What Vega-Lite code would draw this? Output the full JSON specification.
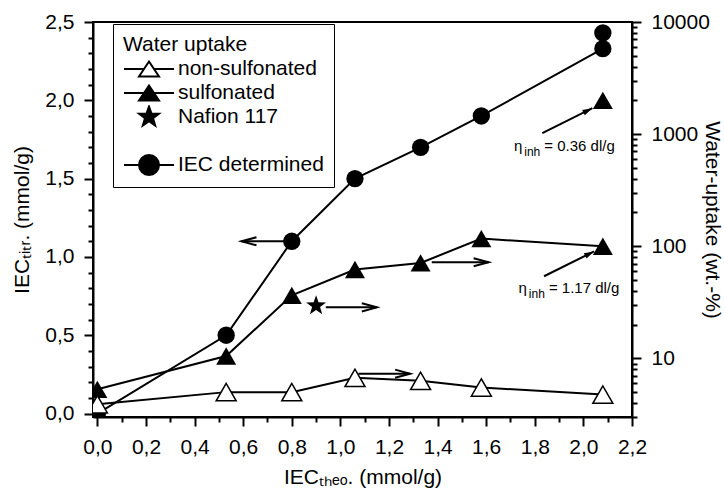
{
  "$schema": "https://vega.github.io/schema/vega-lite/v6.json",
  "width": 539,
  "height": 395,
  "autosize": {"type": "none"},
  "padding": {"left": 93, "top": 22, "right": 92, "bottom": 73},
  "background": "white",
  "config": {
    "font": "Liberation Sans",
    "view": {"stroke": "black", "strokeWidth": 2},
    "axis": {
      "domainColor": "black", "domainWidth": 2,
      "tickColor": "black", "tickWidth": 2, "tickSize": 8,
      "labelColor": "black", "labelFontSize": 21, "labelFont": "Liberation Sans",
      "titleColor": "black", "titleFontSize": 21, "titleFont": "Liberation Sans", "titleFontWeight": "normal",
      "grid": false, "labelFlush": false, "labelOverlap": false, "labelPadding": 10
    },
    "legend": {
      "orient": "none", "legendX": 20, "legendY": 2, "padding": 10,
      "strokeColor": "black",
      "titleFontSize": 21, "titleFontWeight": "normal", "titleColor": "black", "titlePadding": 2,
      "labelFontSize": 21, "labelColor": "black", "labelOffset": 3, "labelLimit": 300,
      "symbolSize": 2500, "symbolStrokeWidth": 2, "symbolStrokeColor": "black",
      "clipHeight": 24, "rowPadding": 0
    }
  },
  "datasets": {
    "iec": [
      {"x": 0, "y": 0, "connected": true},
      {"x": 0.53, "y": 0.5, "connected": true},
      {"x": 0.8, "y": 1.1, "connected": true},
      {"x": 1.06, "y": 1.5, "connected": true},
      {"x": 1.33, "y": 1.7, "connected": true},
      {"x": 1.58, "y": 1.9, "connected": true},
      {"x": 2.08, "y": 2.33, "connected": true},
      {"x": 2.08, "y": 2.43, "connected": false}
    ],
    "water": [
      {"series": "non-sulfonated", "x": 0, "y": 3.9, "connected": true},
      {"series": "non-sulfonated", "x": 0.53, "y": 5.0, "connected": true},
      {"series": "non-sulfonated", "x": 0.8, "y": 5.0, "connected": true},
      {"series": "non-sulfonated", "x": 1.06, "y": 6.7, "connected": true},
      {"series": "non-sulfonated", "x": 1.33, "y": 6.3, "connected": true},
      {"series": "non-sulfonated", "x": 1.58, "y": 5.5, "connected": true},
      {"series": "non-sulfonated", "x": 2.08, "y": 4.75, "connected": true},
      {"series": "sulfonated", "x": 0, "y": 5.3, "connected": true},
      {"series": "sulfonated", "x": 0.53, "y": 10.5, "connected": true},
      {"series": "sulfonated", "x": 0.8, "y": 36.5, "connected": true},
      {"series": "sulfonated", "x": 1.06, "y": 62, "connected": true},
      {"series": "sulfonated", "x": 1.33, "y": 71, "connected": true},
      {"series": "sulfonated", "x": 1.58, "y": 117, "connected": true},
      {"series": "sulfonated", "x": 2.08, "y": 100, "connected": true},
      {"series": "sulfonated", "x": 2.08, "y": 2000, "connected": false},
      {"series": "Nafion 117", "x": 0.9, "y": 29.5, "connected": false}
    ],
    "arrows": [
      {"side": "left", "kind": "h", "x": 0.78, "y": 1.1, "x2": 0.593, "y2": 1.1},
      {"side": "right", "kind": "h", "x": 0.94, "y": 28.5, "x2": 1.15, "y2": 28.5},
      {"side": "right", "kind": "h", "x": 1.376, "y": 72, "x2": 1.61, "y2": 72},
      {"side": "right", "kind": "h", "x": 1.074, "y": 7.3, "x2": 1.287, "y2": 7.3},
      {"side": "right", "kind": "eta", "x": 1.831, "y": 1021, "x2": 2.037, "y2": 1705},
      {"side": "right", "kind": "eta", "x": 1.838, "y": 54, "x2": 2.044, "y2": 90}
    ],
    "notes": [
      {"x": 1.839, "y": 776, "label": "= 0.36 dl/g"},
      {"x": 1.858, "y": 42.5, "label": "= 1.17 dl/g"}
    ],
    "legendRows": [
      {"series": "non-sulfonated", "x": -1, "y": 100},
      {"series": "sulfonated", "x": -1, "y": 100},
      {"series": "Nafion 117", "x": -1, "y": 100},
      {"series": " ", "x": -1, "y": 100},
      {"series": "IEC determined", "x": -1, "y": 100}
    ]
  },
  "encoding": {
    "x": {
      "field": "x", "type": "quantitative",
      "scale": {"domain": [-0.018, 2.2], "nice": false, "zero": false},
      "axis": {
        "title": "IECₜₕₑₒ. (mmol/g)",
        "values": [0, 0.1, 0.2, 0.3, 0.4, 0.5, 0.6, 0.7, 0.8, 0.9, 1, 1.1, 1.2, 1.3, 1.4, 1.5, 1.6, 1.7, 1.8, 1.9, 2, 2.1, 2.2],
        "labelExpr": "round(datum.value*10) % 2 == 0 ? replace(format(datum.value, '.1f'), '.', ',') : ''",
        "tickSize": {"condition": {"test": "round(datum.value*10) % 2 == 0", "value": 9}, "value": 5},
        "titlePadding": 9
      }
    }
  },
  "layer": [
    {
      "encoding": {
        "y": {
          "field": "y", "type": "quantitative",
          "scale": {"domain": [-0.022, 2.5], "nice": false, "zero": false},
          "axis": {
            "title": "IECₜᵢₜᵣ. (mmol/g)", "orient": "left",
            "values": [0, 0.1, 0.2, 0.3, 0.4, 0.5, 0.6, 0.7, 0.8, 0.9, 1, 1.1, 1.2, 1.3, 1.4, 1.5, 1.6, 1.7, 1.8, 1.9, 2, 2.1, 2.2, 2.3, 2.4, 2.5],
            "labelExpr": "round(datum.value*10) % 5 == 0 ? replace(format(datum.value, '.1f'), '.', ',') : ''",
            "tickSize": {"condition": {"test": "round(datum.value*10) % 5 == 0", "value": 9}, "value": 5},
            "titlePadding": 12
          }
        }
      },
      "layer": [
        {
          "data": {"name": "arrows"},
          "transform": [{"filter": "datum.side == 'left'"}],
          "mark": {"type": "rule", "stroke": "black", "strokeWidth": 2},
          "encoding": {"x2": {"field": "x2"}, "y2": {"field": "y2"}}
        },
        {
          "data": {"name": "arrows"},
          "transform": [{"filter": "datum.side == 'left'"}],
          "mark": {"type": "point", "shape": "M1,-0.27L0,0L1,0.27", "filled": false, "stroke": "black", "strokeWidth": 2, "size": 900, "opacity": 1},
          "encoding": {"x": {"field": "x2", "type": "quantitative"}, "y": {"field": "y2", "type": "quantitative"}}
        },
        {
          "data": {"name": "iec"},
          "transform": [{"filter": "datum.connected"}],
          "mark": {"type": "line", "color": "black", "strokeWidth": 2, "clip": true},
          "encoding": {}
        },
        {
          "data": {"name": "iec"},
          "mark": {"type": "point", "shape": "circle", "filled": true, "fill": "black", "size": 300, "opacity": 1, "clip": true},
          "encoding": {}
        }
      ]
    },
    {
      "encoding": {
        "y": {
          "field": "y", "type": "quantitative",
          "scale": {"type": "log", "domain": [3, 10000], "nice": false},
          "axis": {
            "title": "Water-uptake (wt.-%)", "orient": "right",
            "values": [3, 4, 5, 6, 7, 8, 9, 10, 20, 30, 40, 50, 60, 70, 80, 90, 100, 200, 300, 400, 500, 600, 700, 800, 900, 1000, 2000, 3000, 4000, 5000, 6000, 7000, 8000, 9000, 10000],
            "labelExpr": "indexof([10, 100, 1000, 10000], datum.value) >= 0 ? format(datum.value, 'd') : ''",
            "tickSize": {"condition": {"test": "indexof([10, 100, 1000, 10000], datum.value) >= 0", "value": 9}, "value": 5},
            "titlePadding": -8
          }
        }
      },
      "layer": [
        {
          "data": {"name": "arrows"},
          "transform": [{"filter": "datum.side == 'right'"}],
          "mark": {"type": "rule", "stroke": "black", "strokeWidth": 2},
          "encoding": {"x2": {"field": "x2"}, "y2": {"field": "y2"}}
        },
        {
          "data": {"name": "arrows"},
          "transform": [{"filter": "datum.side == 'right' && datum.kind == 'h'"}],
          "mark": {"type": "point", "shape": "M-1,-0.27L0,0L-1,0.27", "filled": false, "stroke": "black", "strokeWidth": 2, "size": 900, "opacity": 1},
          "encoding": {"x": {"field": "x2", "type": "quantitative"}, "y": {"field": "y2", "type": "quantitative"}}
        },
        {
          "data": {"name": "arrows"},
          "transform": [{"filter": "datum.kind == 'eta'"}],
          "mark": {"type": "point", "shape": "M0,0L-1.029,0.179L-0.76,0.716Z", "filled": true, "fill": "black", "size": 400, "opacity": 1},
          "encoding": {"x": {"field": "x2", "type": "quantitative"}, "y": {"field": "y2", "type": "quantitative"}}
        },
        {
          "data": {"name": "water"},
          "transform": [{"filter": "datum.series == 'sulfonated' && datum.connected"}],
          "mark": {"type": "line", "color": "black", "strokeWidth": 2, "clip": true},
          "encoding": {}
        },
        {
          "data": {"name": "water"},
          "transform": [{"filter": "datum.series == 'non-sulfonated' && datum.connected"}],
          "mark": {"type": "line", "color": "black", "strokeWidth": 2, "clip": true},
          "encoding": {}
        },
        {
          "data": {"name": "water"},
          "transform": [{"filter": "datum.series == 'sulfonated'"}],
          "mark": {"type": "point", "shape": "triangle-up", "filled": true, "fill": "black", "size": 400, "opacity": 1, "clip": true},
          "encoding": {}
        },
        {
          "data": {"name": "water"},
          "transform": [{"filter": "datum.series == 'non-sulfonated'"}],
          "mark": {"type": "point", "shape": "triangle-up", "filled": true, "fill": "white", "stroke": "black", "strokeWidth": 1.5, "size": 400, "opacity": 1, "clip": true},
          "encoding": {}
        },
        {
          "data": {"name": "water"},
          "transform": [{"filter": "datum.series == 'Nafion 117'"}],
          "mark": {"type": "point", "shape": "M0,-1L0.235,-0.324L0.951,-0.309L0.38,0.124L0.588,0.809L0,0.4L-0.588,0.809L-0.38,0.124L-0.951,-0.309L-0.235,-0.324Z", "filled": true, "fill": "black", "size": 440, "opacity": 1, "clip": true},
          "encoding": {}
        },
        {
          "data": {"name": "notes"},
          "mark": {"type": "text", "align": "left", "baseline": "middle", "fontSize": 15, "color": "black"},
          "encoding": {"text": {"field": "label"}}
        },
        {
          "data": {"name": "notes"},
          "mark": {"type": "text", "align": "right", "baseline": "middle", "fontSize": 15, "color": "black", "dx": -22, "text": "η"},
          "encoding": {}
        },
        {
          "data": {"name": "notes"},
          "mark": {"type": "text", "align": "right", "baseline": "middle", "fontSize": 12, "color": "black", "dx": -4, "dy": 6, "text": "inh"},
          "encoding": {}
        },
        {
          "data": {"name": "legendRows"},
          "mark": {"type": "point", "filled": true, "strokeWidth": 2, "size": 2500, "opacity": 1, "clip": true},
          "encoding": {
            "shape": {
              "field": "series", "type": "nominal", "title": "Water uptake",
              "scale": {
                "domain": ["non-sulfonated", "sulfonated", "Nafion 117", " ", "IEC determined"],
                "range": [
                  "M-1,0L-0.2,0M0.2,0L1,0M0,-0.3L0.4,0.3L-0.4,0.3Z",
                  "M-1,0L-0.2,0M0.2,0L1,0M0,-0.3L0.4,0.3L-0.4,0.3Z",
                  "M0,-0.42L0.1,-0.138L0.399,-0.13L0.162,0.053L0.247,0.34L0,0.17L-0.247,0.34L-0.162,0.053L-0.399,-0.13L-0.1,-0.138Z",
                  "M0,0",
                  "M-1,0L-0.4,0M0.4,0L1,0M0.4,0L0.3696,0.1531L0.2828,0.2828L0.1531,0.3696L0,0.4L-0.1531,0.3696L-0.2828,0.2828L-0.3696,0.1531L-0.4,0L-0.3696,-0.1531L-0.2828,-0.2828L-0.1531,-0.3696L0,-0.4L0.1531,-0.3696L0.2828,-0.2828L0.3696,-0.1531Z"
                ]
              }
            },
            "fill": {
              "field": "series", "type": "nominal", "title": "Water uptake",
              "scale": {
                "domain": ["non-sulfonated", "sulfonated", "Nafion 117", " ", "IEC determined"],
                "range": ["white", "black", "black", "black", "black"]
              }
            },
            "stroke": {
              "field": "series", "type": "nominal", "title": "Water uptake",
              "scale": {
                "domain": ["non-sulfonated", "sulfonated", "Nafion 117", " ", "IEC determined"],
                "range": ["black", "black", "black", "black", "black"]
              }
            }
          }
        }
      ]
    }
  ],
  "resolve": {"scale": {"y": "independent"}}
}
